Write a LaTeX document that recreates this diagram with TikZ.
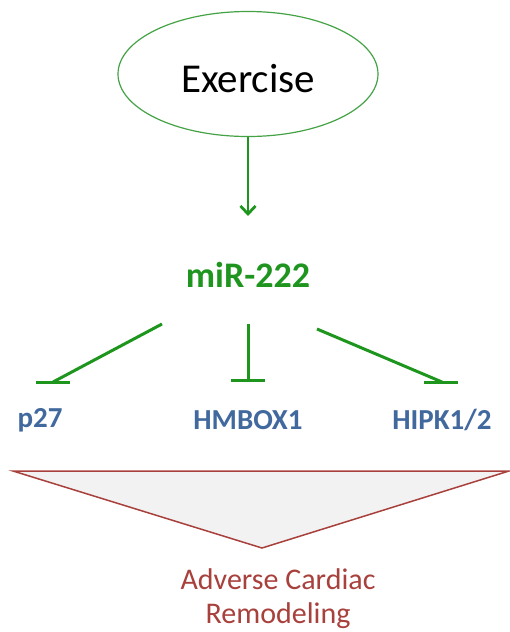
\documentclass[tikz,border=0pt]{standalone}
\usepackage{fontspec}
\setmainfont{Carlito}
\usetikzlibrary{arrows.meta,shapes.geometric}
\definecolor{ellgreen}{HTML}{44A244}
\definecolor{arrgreen}{HTML}{1E961E}
\definecolor{txtgreen}{HTML}{1F951F}
\definecolor{genblue}{HTML}{41699E}
\definecolor{outred}{HTML}{A8403C}
\definecolor{trifill}{HTML}{F2F2F2}
\tikzset{
  ellbox/.style={draw=ellgreen, line width=1.2pt, ellipse, minimum width=260pt, minimum height=125pt, inner sep=0pt},
  arr/.style={draw=arrgreen, line width=2.8pt, -{Straight Barb[length=8pt,width=15pt,line width=2.8pt]}},
  inh/.style={draw=arrgreen, line width=3pt},
  gene/.style={text=genblue, font=\bfseries\fontsize{29}{34}\selectfont, inner sep=0pt},
  outtxt/.style={text=outred, font=\fontsize{30}{34}\selectfont, align=center, inner sep=0pt}
}
\begin{document}
\begin{tikzpicture}[x=1pt,y=-1pt]
\useasboundingbox (0,0) rectangle (510,632);
\node[ellbox] (ex) at (248,74) {};
\node[inner sep=0pt, font=\fontsize{41}{48}\selectfont] (extext) at (248,79) {Exercise};
\node[text=txtgreen, font=\bfseries\fontsize{36}{40}\selectfont, inner sep=0pt] (mir) at (248,275) {miR-222};
\coordinate (arrend) at (248,216);
\draw[arr] (ex.south) -- (arrend);
% targets
\node[gene] (p27) at (40,420) {p27};
\node[gene] (hm) at (248,420) {HMBOX1};
\node[gene] (hi) at (442,420) {HIPK1/2};
% inhibition lines
\coordinate (l0) at (162,324); \coordinate (l1) at (53,382);
\coordinate (m0) at (248,324); \coordinate (m1) at (248,380);
\coordinate (r0) at (317,329); \coordinate (r1) at (442,382);
\draw[inh] (l0) -- (l1);
\draw[inh] ([xshift=-17pt]l1) -- ([xshift=17pt]l1);
\draw[inh] (m0) -- (m1);
\draw[inh] ([xshift=-17pt]m1) -- ([xshift=17pt]m1);
\draw[inh] (r0) -- (r1);
\draw[inh] ([xshift=-18pt]r1) -- ([xshift=16pt]r1);
% triangle
\coordinate (ta) at (13,471); \coordinate (tb) at (509,471); \coordinate (tc) at (262,548);
\draw[draw=outred, fill=trifill, line width=1.5pt, line join=miter] (ta) -- (tb) -- (tc) -- cycle;
\node[outtxt] (out) at (278,599) {Adverse Cardiac\\Remodeling};
\end{tikzpicture}
\end{document}
